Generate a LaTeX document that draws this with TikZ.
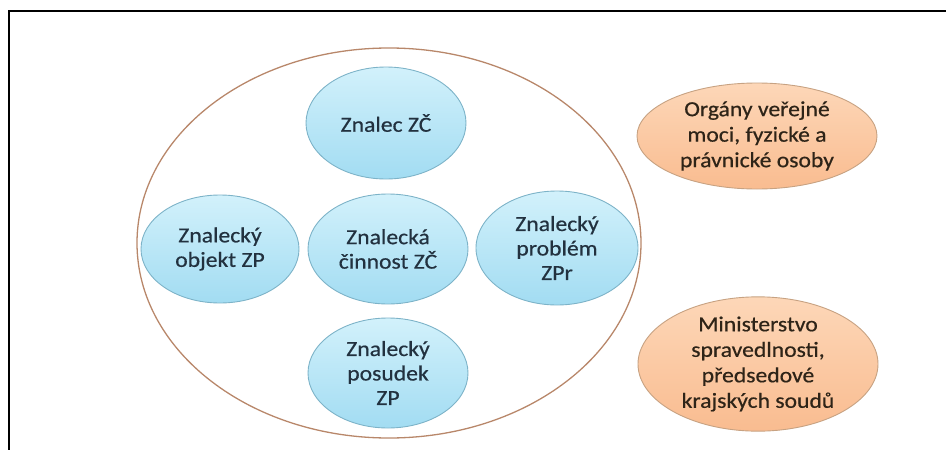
\documentclass[tikz,border=0pt]{standalone}
\usepackage{fontspec}
\setmainfont{Carlito}[FakeStretch=1.1, FakeBold=0.5]
\usetikzlibrary{shapes.geometric}
\definecolor{bluetop}{HTML}{D2F1FB}
\definecolor{bluebot}{HTML}{A2DCF2}
\definecolor{blueline}{HTML}{7DB3C8}
\definecolor{orgtop}{HTML}{FDD7B8}
\definecolor{orgbot}{HTML}{F9BC90}
\definecolor{orgline}{HTML}{C7A282}
\definecolor{bigline}{HTML}{B8876A}
\definecolor{bluetext}{HTML}{22313F}
\definecolor{orgtext}{HTML}{2E2418}
\tikzset{
  blueell/.style={ellipse, draw=blueline, line width=0.9pt, top color=bluetop, bottom color=bluebot,
    inner sep=0pt, minimum width=160pt, minimum height=110pt, align=center,
    text=bluetext, font=\fontsize{21.5}{24.5}\selectfont},
  orgell/.style={ellipse, draw=orgline, line width=0.9pt, top color=orgtop, bottom color=orgbot,
    inner sep=0pt, minimum width=240pt, minimum height=110pt, align=center,
    text=orgtext, font=\fontsize{21.5}{25.5}\selectfont},
  bigell/.style={ellipse, draw=bigline, line width=1.3pt, inner sep=0pt,
    minimum width=504pt, minimum height=390pt},
  frameline/.style={line width=2.7pt, black}
}
\begin{document}
\begin{tikzpicture}[x=1pt, y=-1pt]
\useasboundingbox (0,0) rectangle (946,450);
\coordinate (fl) at (9,450);
\coordinate (fc) at (9,11);
\coordinate (fr) at (946,11);
\draw[frameline] (fl) -- (fc) -- (fr);
\node[bigell] (big) at (389,243) {};
\node[blueell, minimum height=112pt] (zc) at (386,123) {Znalec ZČ};
\node[blueell, minimum width=158pt, minimum height=108pt] (zo) at (220,249) {Znalecký\\objekt ZP};
\node[blueell] (zcin) at (388,249) {Znalecká\\činnost ZČ};
\node[blueell, minimum width=162pt, minimum height=114pt] (zpr) at (557,248) {Znalecký\\problém\\ZPr};
\node[blueell] (zp) at (388,373) {Znalecký\\posudek\\ZP};
\node[orgell, minimum height=106pt] (ovm) at (757,136) {Orgány veřejné\\moci, fyzické a\\právnické osoby};
\node[orgell, minimum height=116pt] (ms) at (758,364) {Ministerstvo\\spravedlnosti,\\předsedové\\krajských soudů};
\end{tikzpicture}
\end{document}
